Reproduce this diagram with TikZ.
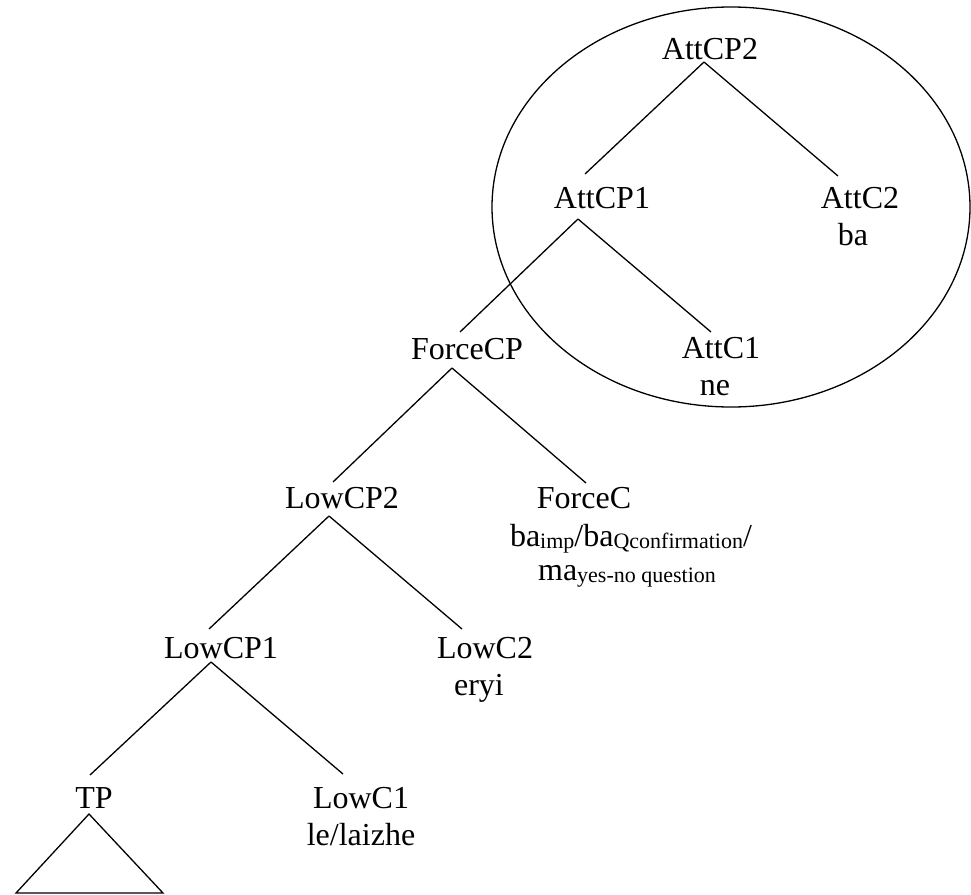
\documentclass[tikz,border=0pt]{standalone}
\usepackage{fontspec}
\setmainfont{Liberation Serif}
\usetikzlibrary{calc}
\newcommand\mainsz{\fontsize{32}{37}\selectfont}
\newcommand\subsz{\fontsize{22}{22}\selectfont}
\newcommand\sbx[1]{\raisebox{-2pt}{\subsz #1}}
\begin{document}
\begin{tikzpicture}[x=1pt,y=-1pt,
  lbl/.style={anchor=base,inner sep=0pt,font=\mainsz},
  edge/.style={line width=1.3pt,draw=black}]
\useasboundingbox (0,0) rectangle (971,894);
% nodes
\node[lbl] (AttCP2) at (710,59) {AttCP2};
\node[lbl] (AttCP1) at (602,208) {AttCP1};
\node[lbl] (AttC2) at (860,208) {AttC2};
\node[lbl] (AttC2w) at (853,245) {ba};
\node[lbl] (AttC1) at (721,358) {AttC1};
\node[lbl] (AttC1w) at (715,395) {ne};
\node[lbl] (ForceCP) at (467,359) {ForceCP};
\node[lbl] (LowCP2) at (342,508) {LowCP2};
\node[lbl] (ForceC) at (584,508) {ForceC};
\node[lbl] (ForceCa) at (631,546) {ba\sbx{imp}/ba\sbx{Qconfirmation}/};
\node[lbl] (ForceCb) at (627,580) {ma\sbx{yes-no question}};
\node[lbl] (LowCP1) at (221,658) {LowCP1};
\node[lbl] (LowC2) at (485,658) {LowC2};
\node[lbl] (LowC2w) at (479,695) {eryi};
\node[lbl] (TP) at (94,808) {TP};
\node[lbl] (LowC1) at (361,808) {LowC1};
\node[lbl] (LowC1w) at (361,845) {le/laizhe};
% ellipse
\draw[line width=1.3pt] (731,207) ellipse [x radius=239, y radius=200];
% branches
\draw[edge] ($(AttCP2.base)+(-6,3)$) -- ($(AttCP1.base)+(-17,-34)$);
\draw[edge] ($(AttCP2.base)+(-6,3)$) -- ($(AttC2.base)+(-22,-32)$);
\draw[edge] ($(AttCP1.base)+(-24,11)$) -- ($(ForceCP.base)+(-7,-27)$);
\draw[edge] ($(AttCP1.base)+(-24,11)$) -- ($(AttC1.base)+(-10,-26)$);
\draw[edge] ($(ForceCP.base)+(-15,9)$) -- ($(LowCP2.base)+(-9,-26)$);
\draw[edge] ($(ForceCP.base)+(-15,9)$) -- ($(ForceC.base)+(2,-25)$);
\draw[edge] ($(LowCP2.base)+(-13,8)$) -- ($(LowCP1.base)+(-12,-29)$);
\draw[edge] ($(LowCP2.base)+(-13,8)$) -- ($(LowC2.base)+(-23,-29)$);
\draw[edge] ($(LowCP1.base)+(-10,4)$) -- ($(TP.base)+(-4,-33)$);
\draw[edge] ($(LowCP1.base)+(-10,4)$) -- ($(LowC1.base)+(-18,-34)$);
% triangle under TP
\draw[edge,line join=miter] ($(TP.base)+(-5,6)$) -- ($(TP.base)+(-78,85)$) -- ($(TP.base)+(69,85)$) -- cycle;
\end{tikzpicture}
\end{document}
